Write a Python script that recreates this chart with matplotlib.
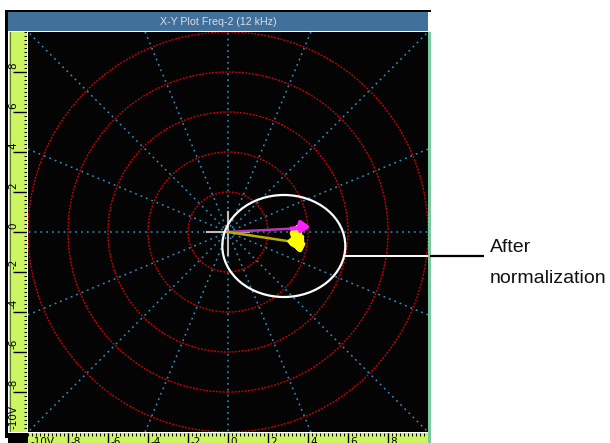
import matplotlib
matplotlib.use("Agg")
import matplotlib.pyplot as plt
from matplotlib.patches import Ellipse, Circle, Rectangle
import numpy as np

# ---- chart content ----
title = "X-Y Plot Freq-2 (12 kHz)"
ring_radii = [2, 4, 6, 8, 10]
spoke_angles = [0, 22.5, 45, 67.5, 90, 112.5, 135, 157.5,
                180, 202.5, 225, 247.5, 270, 292.5, 315, 337.5]
tick_values = [-10, -8, -6, -4, -2, 0, 2, 4, 6, 8]
tick_labels = ["-10V", "-8", "-6", "-4", "-2", "0", "2", "4", "6", "8"]

# signal traces (volts)
yellow_line_x = [0.0, 3.10]
yellow_line_y = [0.0, -0.47]
yellow_x = [3.10, 3.30, 3.20, 3.45, 3.60, 3.40, 3.55, 3.70, 3.50, 3.65, 3.45,
            3.60, 3.75, 3.55, 3.40, 3.50, 3.65, 3.45, 3.30, 3.50, 3.60, 3.35,
            3.20, 3.40, 3.70, 3.55]
yellow_y = [-0.47, -0.30, -0.05, 0.20, 0.05, -0.15, -0.35, -0.25, -0.50, -0.65,
            -0.75, -0.90, -0.60, -0.40, -0.55, -0.80, -0.45, -0.20, 0.10, 0.25,
            -0.10, -0.35, -0.60, -0.70, -0.40, -0.10]
magenta_line_x = [0.0, 3.20]
magenta_line_y = [0.0, 0.17]
magenta_x = [3.20, 3.55, 3.60, 3.95, 3.60, 3.55, 3.75, 3.60, 3.80]
magenta_y = [0.17, 0.20, 0.50, 0.25, 0.05, 0.30, 0.25, 0.15, 0.30]

# highlighted region
ellipse_center = (2.79, -0.70)
ellipse_width = 6.15
ellipse_height = 5.10
callout_y = -1.2
callout_text = ["After", "normalization"]

# ---- figure ----
W, H = 610, 443
fig = plt.figure(figsize=(W / 100, H / 100), dpi=100)
fig.patch.set_facecolor("white")


def rect(x0, y0, x1, y1):
    """Pixel box (top-left origin) -> figure fraction rect."""
    return [x0 / W, 1 - y1 / H, (x1 - x0) / W, (y1 - y0) / H]


# overlay in pixel coordinates for frame pieces and annotation
ov = fig.add_axes([0, 0, 1, 1], zorder=0)
ov.set_xlim(0, W)
ov.set_ylim(H, 0)
ov.axis("off")

ov.add_patch(Rectangle((5, 9.5), 425.5, 2.5, color="black", lw=0))       # top edge
ov.add_patch(Rectangle((5, 9.5), 2.5, 428, color="black", lw=0))         # left edge
ov.add_patch(Rectangle((8, 12), 420, 19, color="#41709A", lw=0))         # title bar
ov.add_patch(Rectangle((8, 433), 20, 12, color="black", lw=0))           # corner
ov.add_patch(Rectangle((428, 31.5), 2.5, 412, color="#78C8A0", lw=0))    # right edge
ov.text(218, 21.5, title, color="#D8DDE6", fontsize=7.7,
        family="Liberation Sans", ha="center", va="center")

# callout leader and text outside the plot
ov.plot([430, 484], [256, 256], color="black", lw=1.6, solid_capstyle="butt")
ov.text(490, 252, callout_text[0], fontsize=14, family="Liberation Sans",
        ha="left", va="baseline", color="#111111")
ov.text(490, 283, callout_text[1], fontsize=14, family="Liberation Sans",
        ha="left", va="baseline", color="#111111")

# ---- main X-Y plane ----
ax = fig.add_axes(rect(28, 32, 428, 432), zorder=2)
ax.set_facecolor("#040404")
ax.set_xlim(-10, 10)
ax.set_ylim(-10, 10)
ax.set_xticks([])
ax.set_yticks([])
for s in ax.spines.values():
    s.set_visible(False)

for ang in spoke_angles:
    a = np.deg2rad(ang)
    ax.plot([0, 16 * np.cos(a)], [0, 16 * np.sin(a)], color="#2F8FC0",
            lw=1.1, linestyle=(0, (1.2, 2.6)), zorder=1)

for r in ring_radii:
    ax.add_patch(Circle((0, 0), r, fill=False, edgecolor="#D00000", lw=1.0,
                        linestyle=(0, (1.4, 1.0)), zorder=2))

# centre cross
ax.plot([-1.05, 1.05], [0, 0], color="#BDBDBD", lw=1.5, zorder=3)
ax.plot([0, 0], [-1.15, 1.0], color="#BDBDBD", lw=1.5, zorder=3)

# traces
ax.plot(magenta_line_x, magenta_line_y, color="#B838B8", lw=1.8, zorder=4)
ax.plot(yellow_line_x, yellow_line_y, color="#B8B000", lw=1.8, zorder=4)
ax.plot(yellow_x, yellow_y, color="#FFFF00", lw=3.4, zorder=5,
        solid_joinstyle="round")
ax.plot(magenta_x, magenta_y, color="#FF20FF", lw=3.0, zorder=6,
        solid_joinstyle="round")

ax.add_patch(Ellipse(ellipse_center, ellipse_width, ellipse_height, fill=False,
                     edgecolor="white", lw=1.6, zorder=7))
cx, cy = ellipse_center
dy = callout_y - cy
x_edge = cx + ellipse_width / 2 * np.sqrt(1 - (dy / (ellipse_height / 2)) ** 2)
ax.plot([x_edge, 10], [callout_y, callout_y], color="white", lw=1.4, zorder=7)

# ---- left ruler ----
lr = fig.add_axes(rect(9, 32, 27, 432), zorder=2)
lr.set_facecolor("#CDF562")
lr.set_xlim(0, 1)
lr.set_ylim(-10, 10)
lr.set_xticks([])
lr.set_yticks([])
for s in lr.spines.values():
    s.set_visible(False)
lr.axvline(0.03, color="#5A7A20", lw=0.8)
minor = np.arange(-10, 10.01, 0.2)
lr.hlines(minor, 0.82, 1.0, color="black", lw=0.7)
lr.hlines(tick_values[1:], 0.2, 1.0, color="black", lw=1.0)
for v, lab in zip(tick_values, tick_labels):
    lr.text(0.26, v + 0.15, lab, rotation=90, ha="center", va="bottom",
            fontsize=7.5, family="DejaVu Sans", color="black")

# ---- bottom ruler ----
br = fig.add_axes(rect(28, 433, 428, 453), zorder=2)
br.set_facecolor("#CDF562")
br.set_xlim(-10, 10)
br.set_ylim(0, 20)
br.set_xticks([])
br.set_yticks([])
for s in br.spines.values():
    s.set_visible(False)
br.vlines(np.arange(-10, 10.01, 0.2), 17, 20, color="black", lw=0.7)
br.vlines(tick_values[1:], 0, 20, color="black", lw=1.0)
for v, lab in zip(tick_values, tick_labels):
    br.text(v + 0.12, 16.0, lab, ha="left", va="top", fontsize=7.5,
            family="DejaVu Sans", color="black")

fig.savefig("out.png", dpi=100, facecolor="white")
